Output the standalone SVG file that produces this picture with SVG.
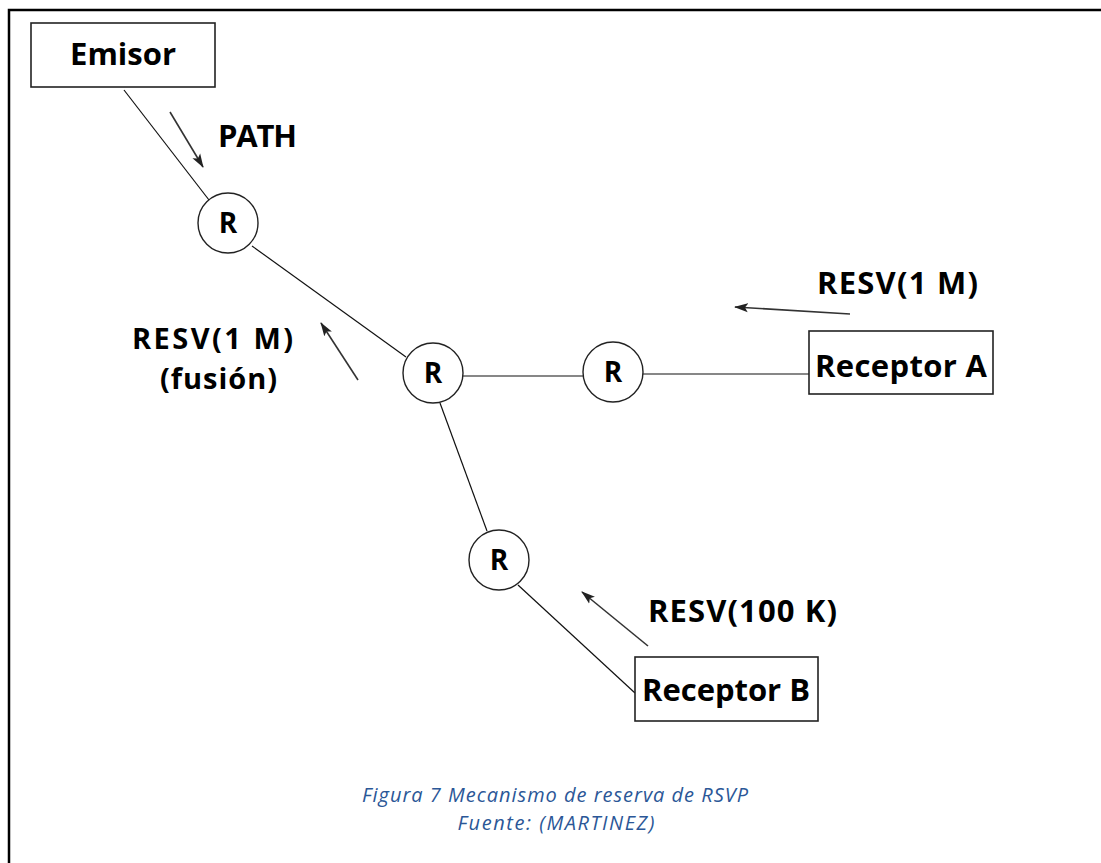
<svg xmlns="http://www.w3.org/2000/svg" width="1101" height="863" viewBox="0 0 1101 863">
  <style>
    .frame { stroke: #000; stroke-width: 2.5; fill: none; }
    .box { fill: #fff; stroke: #222; stroke-width: 1.6; }
    .router { fill: #fff; stroke: #222; stroke-width: 1.4; }
    .link { stroke: #111; stroke-width: 1.2; fill: none; }
    .msg { stroke: #333; stroke-width: 1.6; fill: none; marker-end: url(#head); }
    .lbl { font-family: "Open Sans", "Liberation Sans", sans-serif; font-weight: 700; font-size: 31px; fill: #000; }
    .lbl2 { font-family: "Open Sans", "Liberation Sans", sans-serif; font-weight: 700; font-size: 29px; fill: #000; }
    .rlbl { font-family: "Open Sans", "Liberation Sans", sans-serif; font-weight: 700; font-size: 28px; fill: #000; text-anchor: middle; }
    .cap { font-family: "Open Sans", "Liberation Sans", sans-serif; font-style: italic; font-size: 20px; fill: #2B5797; text-anchor: middle; }
  </style>
  <defs>
    <marker id="head" viewBox="0 0 14 10" refX="13" refY="5" markerWidth="14" markerHeight="10" markerUnits="userSpaceOnUse" orient="auto">
      <path d="M0,0.5 L14,5 L0,9.5 L3,5 Z" fill="#222"/>
    </marker>
  </defs>
  <rect width="1101" height="863" fill="#fff"/>

  <!-- page frame (top and left edges) -->
  <path class="frame" d="M9,863 V10 H1101"/>

  <!-- links between nodes -->
  <g id="connectors">
    <line class="link" x1="124" y1="90" x2="209" y2="200"/>
    <line class="link" x1="252" y1="246" x2="406" y2="357"/>
    <line class="link" x1="463" y1="376" x2="583" y2="376"/>
    <line class="link" x1="643" y1="374" x2="809" y2="374"/>
    <line class="link" x1="440" y1="403" x2="487" y2="531"/>
    <line class="link" x1="518" y1="585" x2="635" y2="693"/>
  </g>

  <!-- signalling messages -->
  <g id="messages">
    <line class="msg" x1="170" y1="112" x2="203" y2="167"/>
    <line class="msg" x1="850" y1="314" x2="735" y2="307"/>
    <line class="msg" x1="358" y1="380" x2="321" y2="323"/>
    <line class="msg" x1="648" y1="646" x2="582" y2="592"/>
    <text class="lbl" x="218" y="147" textLength="79">PATH</text>
    <text class="lbl" x="817" y="294" textLength="161">RESV(1 M)</text>
    <text class="lbl2" x="132" y="349" textLength="161">RESV(1 M)</text>
    <text class="lbl2" x="160" y="389" textLength="117">(fusión)</text>
    <text class="lbl" x="648" y="622" textLength="189">RESV(100 K)</text>
  </g>

  <g id="emisor">
    <rect class="box" x="31" y="23" width="184" height="64"/>
    <text class="lbl" x="123" y="65" text-anchor="middle">Emisor</text>
  </g>

  <g id="router1">
    <circle class="router" cx="228" cy="223" r="30"/>
    <text class="rlbl" x="228" y="233">R</text>
  </g>
  <g id="router2">
    <circle class="router" cx="433" cy="373" r="30"/>
    <text class="rlbl" x="433" y="383">R</text>
  </g>
  <g id="router3">
    <circle class="router" cx="613" cy="372" r="30"/>
    <text class="rlbl" x="613" y="382">R</text>
  </g>
  <g id="router4">
    <circle class="router" cx="499" cy="560" r="30"/>
    <text class="rlbl" x="499" y="570">R</text>
  </g>

  <g id="receptorA">
    <rect class="box" x="809" y="331" width="184" height="63"/>
    <text class="lbl" x="901" y="377" text-anchor="middle" textLength="172">Receptor A</text>
  </g>
  <g id="receptorB">
    <rect class="box" x="635" y="657" width="183" height="64"/>
    <text class="lbl" x="726" y="701" text-anchor="middle" textLength="168">Receptor B</text>
  </g>

  <g id="caption">
    <text class="cap" x="555" y="802" textLength="386">Figura 7 Mecanismo de reserva de RSVP</text>
    <text class="cap" x="556" y="830" textLength="197">Fuente: (MARTINEZ)</text>
  </g>
</svg>
